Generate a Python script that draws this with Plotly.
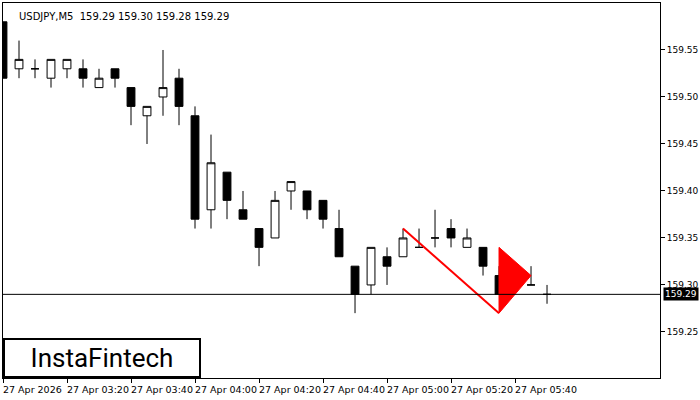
import plotly.graph_objects as go

# USDJPY M5 bars, 27 Apr 2026 from 03:00
opens  = [159.58, 159.53, 159.53, 159.52, 159.53, 159.53, 159.51, 159.53, 159.51, 159.48,
          159.50, 159.52, 159.48, 159.38, 159.42, 159.38, 159.36, 159.35, 159.40, 159.40,
          159.39, 159.36, 159.32, 159.30, 159.33, 159.33, 159.34, 159.35, 159.36, 159.34,
          159.34, 159.31, 159.30, 159.30, 159.29]
highs  = [159.58, 159.56, 159.54, 159.54, 159.54, 159.54, 159.53, 159.53, 159.51, 159.49,
          159.55, 159.53, 159.49, 159.46, 159.42, 159.40, 159.36, 159.40, 159.41, 159.40,
          159.39, 159.38, 159.32, 159.34, 159.34, 159.36, 159.36, 159.38, 159.37, 159.36,
          159.34, 159.32, 159.32, 159.32, 159.30]
lows   = [159.52, 159.52, 159.52, 159.51, 159.52, 159.51, 159.51, 159.51, 159.47, 159.45,
          159.48, 159.47, 159.36, 159.36, 159.37, 159.37, 159.32, 159.35, 159.38, 159.37,
          159.36, 159.33, 159.27, 159.29, 159.30, 159.33, 159.34, 159.34, 159.34, 159.34,
          159.31, 159.29, 159.30, 159.30, 159.28]
closes = [159.52, 159.54, 159.53, 159.54, 159.54, 159.52, 159.52, 159.52, 159.49, 159.49,
          159.51, 159.49, 159.37, 159.43, 159.39, 159.37, 159.34, 159.39, 159.41, 159.38,
          159.37, 159.33, 159.29, 159.34, 159.32, 159.35, 159.34, 159.35, 159.35, 159.35,
          159.32, 159.29, 159.31, 159.30, 159.29]

time_labels = ["27 Apr 2026", "27 Apr 03:20", "27 Apr 03:40", "27 Apr 04:00", "27 Apr 04:20",
               "27 Apr 04:40", "27 Apr 05:00", "27 Apr 05:20", "27 Apr 05:40"]
label_idx = [0, 4, 8, 12, 16, 20, 24, 28, 32]

# pennant pattern: pole and flag triangle
pole_x, pole_y = [25, 31], [159.36, 159.27]
flag_x, flag_y = [31, 31, 33, 31], [159.34, 159.27, 159.31, 159.34]
last_price = 159.29
price_ticks = [159.25, 159.30, 159.35, 159.40, 159.45, 159.50, 159.55]

idx = list(range(len(opens)))

fig = go.Figure()
fig.add_trace(go.Scatter(x=flag_x, y=flag_y, fill="toself", fillcolor="#ff0000",
                         line=dict(color="#ff0000", width=1), mode="lines", hoverinfo="skip"))
fig.add_trace(go.Scatter(x=pole_x, y=pole_y, mode="lines",
                         line=dict(color="#ff0000", width=2), hoverinfo="skip"))
fig.add_trace(go.Candlestick(
    x=idx, open=opens, high=highs, low=lows, close=closes,
    increasing=dict(fillcolor="white", line=dict(color="black", width=1)),
    decreasing=dict(fillcolor="black", line=dict(color="black", width=1)),
    whiskerwidth=0,
))

fig.add_hline(y=last_price, line=dict(color="black", width=1))

annotations = [
    dict(text="USDJPY,M5  159.29 159.30 159.28 159.29", x=0.022, y=0.985, xref="paper", yref="paper",
         showarrow=False, xanchor="left", yanchor="top", font=dict(size=10, color="#000")),
    dict(text="159.29", x=1.0, y=last_price, xref="paper", yref="y", xanchor="left",
         showarrow=False, bgcolor="black", font=dict(size=9, color="white"), xshift=3),
    dict(text="InstaFintech", x=0, y=0, xref="paper", yref="paper", xanchor="left", yanchor="bottom",
         showarrow=False, bgcolor="white", bordercolor="black", borderwidth=2, borderpad=3,
         width=188, height=30, font=dict(size=26, color="black", family="Roboto")),
]
for i, lab in zip(label_idx, time_labels):
    annotations.append(dict(text=lab, x=i, y=0, xref="x", yref="paper", yanchor="top",
                            xanchor="left", showarrow=False, yshift=-4, xshift=-2,
                            font=dict(size=9.5, color="#000")))

fig.update_layout(
    width=700, height=400, margin=dict(l=3, r=40, t=3, b=22, autoexpand=False),
    paper_bgcolor="white", plot_bgcolor="white", showlegend=False,
    font=dict(family="DejaVu Sans", size=9, color="black"),
    annotations=annotations,
    xaxis=dict(range=[0, 41.06], showgrid=False, zeroline=False, rangeslider=dict(visible=False),
               tickvals=label_idx, ticktext=[""] * len(label_idx), ticks="outside", ticklen=4,
               tickcolor="black", showline=True, linecolor="black", mirror=True),
    yaxis=dict(range=[159.201, 159.60], side="right", showgrid=False, zeroline=False,
               tickvals=price_ticks, tickformat=".2f", ticks="outside", ticklen=4,
               tickcolor="black", showline=True, linecolor="black", mirror=True),
)

# drop the default page margin so the chart sits flush in the window
fig.write_html("out.html", config={"displayModeBar": False},
               post_script="document.body.style.margin='0';")
